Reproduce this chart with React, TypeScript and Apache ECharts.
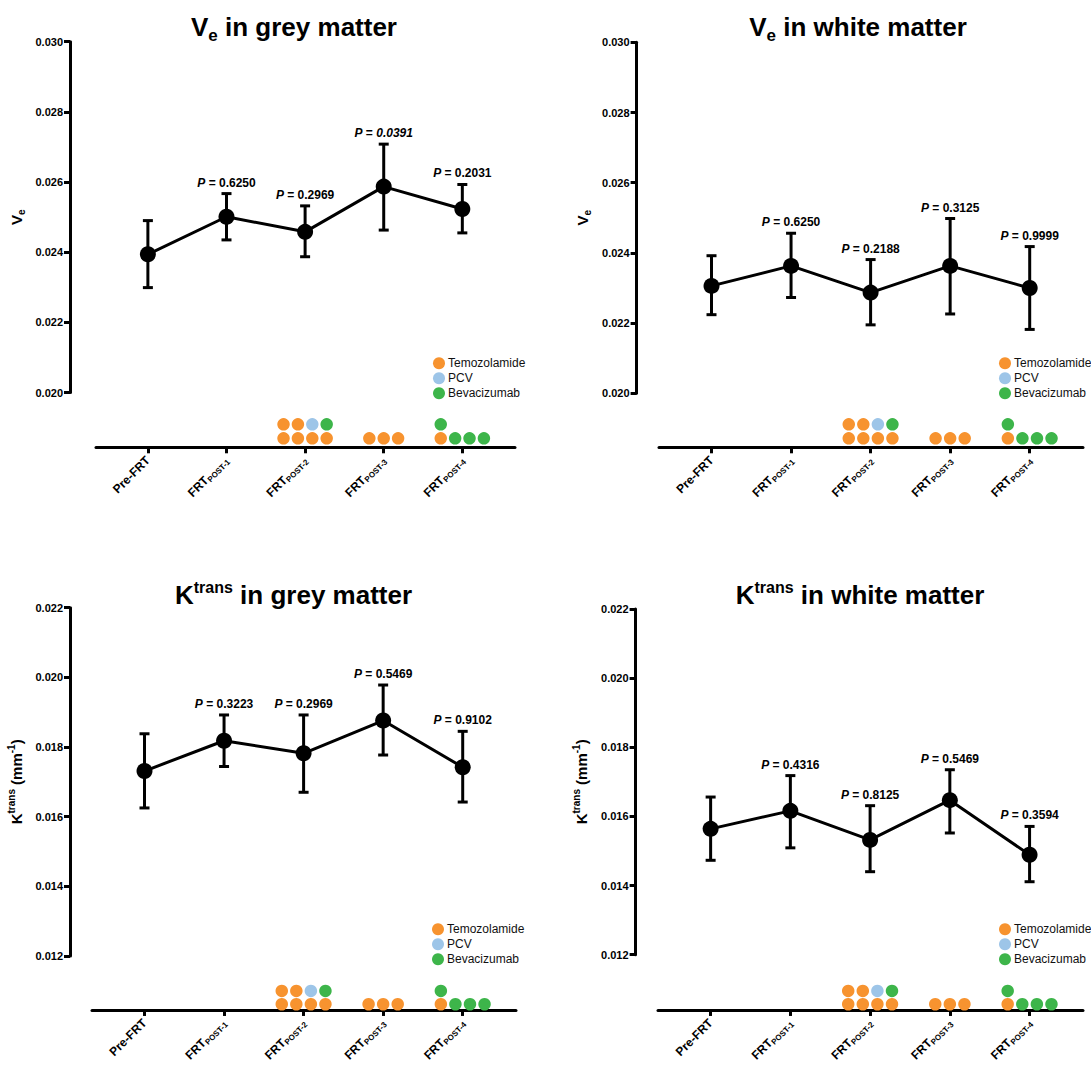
import React, { useEffect, useRef } from 'react';
import * as echarts from 'echarts';

const FONT = '"Liberation Sans", Arial, Helvetica, sans-serif';

// ---------- data ----------
const categoryMain = ['Pre-FRT', 'FRT', 'FRT', 'FRT', 'FRT'];
const categorySub = ['', 'POST-1', 'POST-2', 'POST-3', 'POST-4'];
const categoryIndex = [0, 1, 2, 3, 4];

const veGreyMean = [0.02394, 0.02501, 0.02458, 0.02587, 0.02523];
const veGreyUpper = [0.0249, 0.02567, 0.02532, 0.02708, 0.02593];
const veGreyLower = [0.02299, 0.02435, 0.02387, 0.02463, 0.02455];
const veGreyP = [null, '0.6250', '0.2969', '0.0391', '0.2031'];

const veWhiteMean = [0.02306, 0.02363, 0.02287, 0.02363, 0.023];
const veWhiteUpper = [0.02392, 0.02456, 0.02381, 0.02498, 0.02418];
const veWhiteLower = [0.02224, 0.02273, 0.02195, 0.02226, 0.02182];
const veWhiteP = [null, '0.6250', '0.2188', '0.3125', '0.9999'];

const ktGreyMean = [0.01731, 0.01818, 0.01782, 0.01876, 0.01742];
const ktGreyUpper = [0.01838, 0.01892, 0.01892, 0.01978, 0.01845];
const ktGreyLower = [0.01625, 0.01744, 0.0167, 0.01777, 0.01642];
const ktGreyP = [null, '0.3223', '0.2969', '0.5469', '0.9102'];

const ktWhiteMean = [0.01564, 0.01616, 0.01532, 0.01647, 0.01489];
const ktWhiteUpper = [0.01656, 0.01718, 0.01631, 0.01735, 0.01571];
const ktWhiteLower = [0.01473, 0.01509, 0.0144, 0.01552, 0.01411];
const ktWhiteP = [null, '0.4316', '0.8125', '0.5469', '0.3594'];

const veRange = { min: 0.02, max: 0.03, interval: 0.002 };
const ktRange = { min: 0.012, max: 0.022, interval: 0.002 };

const drugs = ['Temozolamide', 'PCV', 'Bevacizumab'];
const drugColors = ['#F7932F', '#9DC5E8', '#3DB54A'];
const treatmentBottom: string[][] = [
  [],
  [],
  ['Temozolamide', 'Temozolamide', 'Temozolamide', 'Temozolamide'],
  ['Temozolamide', 'Temozolamide', 'Temozolamide'],
  ['Temozolamide', 'Bevacizumab', 'Bevacizumab', 'Bevacizumab'],
];
const treatmentTop: string[][] = [
  [],
  [],
  ['Temozolamide', 'Temozolamide', 'PCV', 'Bevacizumab'],
  [],
  ['Bevacizumab'],
];

// ---------- layout ----------
const X_MIN = -0.66;
const X_MAX = 4.67;
const DOT_STEP = 0.183;

const panels = [
  {
    title: '{m|V}{s|e}{m| in grey matter}', kind: 've',
    yName: '{v|V}{s|e}',
    mean: veGreyMean, upper: veGreyUpper, lower: veGreyLower, p: veGreyP, range: veRange,
    grid: { left: 96, width: 419, top: 41.7, height: 350.8 }, yOffset: 26, xOffset: 54.8,
    dot: { top: 417.3, height: 28 }, legend: { left: 433, top: 357.3 }, titlePos: [294, 26.7],
  },
  {
    title: '{m|V}{s|e}{m| in white matter}', kind: 've',
    yName: '{v|V}{s|e}',
    mean: veWhiteMean, upper: veWhiteUpper, lower: veWhiteLower, p: veWhiteP, range: veRange,
    grid: { left: 659, width: 424, top: 42.3, height: 351 }, yOffset: 22.4, xOffset: 54,
    dot: { top: 417.3, height: 28 }, legend: { left: 999, top: 357.3 }, titlePos: [858, 26.7],
  },
  {
    title: '{m|K}{u|trans}{m| in grey matter}', kind: 'kt',
    yName: '{v|K}{u|trans}{v| (mm}{u|-1}{v|)}',
    mean: ktGreyMean, upper: ktGreyUpper, lower: ktGreyLower, p: ktGreyP, range: ktRange,
    grid: { left: 92, width: 424, top: 607.7, height: 351.6 }, yOffset: 22, xOffset: 54,
    dot: { top: 984.3, height: 26.6 }, legend: { left: 432, top: 923.3 }, titlePos: [293.5, 595],
  },
  {
    title: '{m|K}{u|trans}{m| in white matter}', kind: 'kt',
    yName: '{v|K}{u|trans}{v| (mm}{u|-1}{v|)}',
    mean: ktWhiteMean, upper: ktWhiteUpper, lower: ktWhiteLower, p: ktWhiteP, range: ktRange,
    grid: { left: 658, width: 425, top: 609, height: 350 }, yOffset: 22.4, xOffset: 55.3,
    dot: { top: 984.3, height: 26.6 }, legend: { left: 999, top: 923.3 }, titlePos: [860, 595],
  },
];

function buildOption() {
  const grid: any[] = [];
  const xAxis: any[] = [];
  const yAxis: any[] = [];
  const series: any[] = [];
  const legend: any[] = [];
  const graphic: any[] = [];

  panels.forEach((pn, k) => {
    const gMain = 2 * k;
    const gDot = 2 * k + 1;
    grid.push({ left: pn.grid.left, top: pn.grid.top, width: pn.grid.width, height: pn.grid.height });
    grid.push({ left: pn.grid.left, top: pn.dot.top, width: pn.grid.width, height: pn.dot.height });

    xAxis.push({
      type: 'value', gridIndex: gMain, min: X_MIN, max: X_MAX, offset: pn.xOffset,
      splitLine: { show: false },
      axisLine: { show: true, onZero: false, lineStyle: { color: '#000', width: 3 } },
      axisTick: { show: true, customValues: categoryIndex, length: 6, lineStyle: { color: '#000', width: 3 } },
      axisLabel: {
        customValues: categoryIndex, rotate: 45, margin: 11,
        fontFamily: FONT, fontSize: 12, fontWeight: 'bold', color: '#000',
        formatter: (v: number) => {
          const i = Math.round(v);
          return categorySub[i]
            ? `{m|${categoryMain[i]}}{s|${categorySub[i]}}`
            : `{m|${categoryMain[i]}}`;
        },
        rich: {
          m: { fontFamily: FONT, fontSize: 12, fontWeight: 'bold', color: '#000', lineHeight: 15 },
          s: { fontFamily: FONT, fontSize: 8, fontWeight: 'bold', color: '#000', lineHeight: 9, verticalAlign: 'bottom' },
        },
      },
    });
    xAxis.push({ type: 'value', gridIndex: gDot, min: X_MIN, max: X_MAX, show: false });

    yAxis.push({
      type: 'value', gridIndex: gMain, min: pn.range.min, max: pn.range.max, interval: pn.range.interval,
      offset: pn.yOffset,
      splitLine: { show: false },
      axisLine: { show: true, onZero: false, lineStyle: { color: '#000', width: 3 } },
      axisTick: { show: true, length: 6, lineStyle: { color: '#000', width: 3 } },
      axisLabel: {
        margin: 7, fontFamily: FONT, fontSize: 11, fontWeight: 'bold', color: '#000',
        formatter: (v: number) => v.toFixed(3),
      },
      name: pn.yName, nameLocation: 'middle', nameRotate: 90, nameGap: 44,
      nameTextStyle: {
        rich: {
          v: { fontFamily: FONT, fontSize: 15, fontWeight: 'bold', color: '#000', lineHeight: 20 },
          s: { fontFamily: FONT, fontSize: 10, fontWeight: 'bold', color: '#000', lineHeight: 10, verticalAlign: 'bottom' },
          u: { fontFamily: FONT, fontSize: 10, fontWeight: 'bold', color: '#000', lineHeight: 10, verticalAlign: 'top' },
        },
      },
    });
    yAxis.push({ type: 'value', gridIndex: gDot, min: 0, max: 2, show: false });

    const pvals = pn.p;
    series.push({
      type: 'custom', name: 'errors-' + k, xAxisIndex: gMain, yAxisIndex: gMain, z: 2,
      data: categoryIndex.map((i) => [i, pn.lower[i], pn.upper[i]]),
      encode: { x: 0, y: [1, 2] },
      renderItem: (params: any, api: any) => {
        const x = api.value(0);
        const lo = api.coord([x, api.value(1)]);
        const hi = api.coord([x, api.value(2)]);
        const cap = 5;
        const st = { stroke: '#000', lineWidth: 3 };
        const children: any[] = [
          { type: 'line', shape: { x1: lo[0], y1: lo[1], x2: hi[0], y2: hi[1] }, style: st },
          { type: 'line', shape: { x1: hi[0] - cap, y1: hi[1], x2: hi[0] + cap, y2: hi[1] }, style: st },
          { type: 'line', shape: { x1: lo[0] - cap, y1: lo[1], x2: lo[0] + cap, y2: lo[1] }, style: st },
        ];
        const pv = pvals[params.dataIndex];
        if (pv) {
          const sig = parseFloat(pv) < 0.05;
          children.push({
            type: 'text',
            style: {
              text: `{i|P}{n| = }{${sig ? 'i' : 'n'}|${pv}}`,
              x: hi[0], y: hi[1] - 11, align: 'center', verticalAlign: 'middle',
              rich: {
                i: { fontFamily: FONT, fontSize: 12, fontWeight: 'bold', fontStyle: 'italic', fill: '#000' },
                n: { fontFamily: FONT, fontSize: 12, fontWeight: 'bold', fill: '#000' },
              },
            },
          });
        }
        return { type: 'group', children };
      },
    });

    series.push({
      type: 'line', name: 'mean-' + k, xAxisIndex: gMain, yAxisIndex: gMain, z: 3,
      data: categoryIndex.map((i) => [i, pn.mean[i]]),
      symbol: 'circle', symbolSize: 16,
      lineStyle: { color: '#000', width: 3 },
      itemStyle: { color: '#000' },
    });

    drugs.forEach((d, di) => {
      const pts: number[][] = [];
      categoryIndex.forEach((i) => {
        const bottom = treatmentBottom[i];
        const n = bottom.length;
        bottom.forEach((name, j) => {
          if (name === d) pts.push([i + (j - (n - 1) / 2) * DOT_STEP, 0.5]);
        });
        treatmentTop[i].forEach((name, j) => {
          if (name === d) pts.push([i + (j - (n - 1) / 2) * DOT_STEP, 1.5]);
        });
      });
      series.push({
        type: 'scatter', name: d, xAxisIndex: gDot, yAxisIndex: gDot,
        data: pts, symbol: 'circle', symbolSize: 12.5,
        itemStyle: { color: drugColors[di], opacity: 1 },
      });
    });

    legend.push({
      orient: 'vertical', left: pn.legend.left, top: pn.legend.top, padding: 0,
      itemWidth: 12, itemHeight: 12, itemGap: 3, icon: 'circle', selectedMode: false,
      data: drugs.map((d, di) => ({ name: d, itemStyle: { color: drugColors[di], opacity: 1 } })),
      textStyle: { fontFamily: FONT, fontSize: 12, color: '#111', lineHeight: 12, padding: [0, 0, 0, -2] },
    });

    const isK = pn.kind === 'kt';
    graphic.push({
      type: 'text', x: pn.titlePos[0], y: pn.titlePos[1],
      style: {
        text: pn.title, align: 'center', verticalAlign: 'middle',
        rich: {
          m: { fontFamily: FONT, fontSize: 26, fontWeight: 'bold', fill: '#000', lineHeight: isK ? 32 : 34 },
          s: { fontFamily: FONT, fontSize: 17, fontWeight: 'bold', fill: '#000', lineHeight: 17, verticalAlign: 'bottom' },
          u: { fontFamily: FONT, fontSize: 16, fontWeight: 'bold', fill: '#000', lineHeight: 16, verticalAlign: 'top' },
        },
      },
    });
  });

  return {
    animation: false,
    backgroundColor: '#fff',
    grid, xAxis, yAxis, series, legend, graphic,
  };
}

export default function App() {
  const ref = useRef<HTMLDivElement>(null);
  useEffect(() => {
    if (!ref.current) return;
    const chart = echarts.init(ref.current, undefined, { renderer: 'svg' });
    chart.setOption(buildOption() as any);
    return () => chart.dispose();
  }, []);
  return (
    <div
      ref={ref}
      style={{ position: 'absolute', left: 0, top: 0, width: 1091, height: 1065, background: '#fff' }}
    />
  );
}
